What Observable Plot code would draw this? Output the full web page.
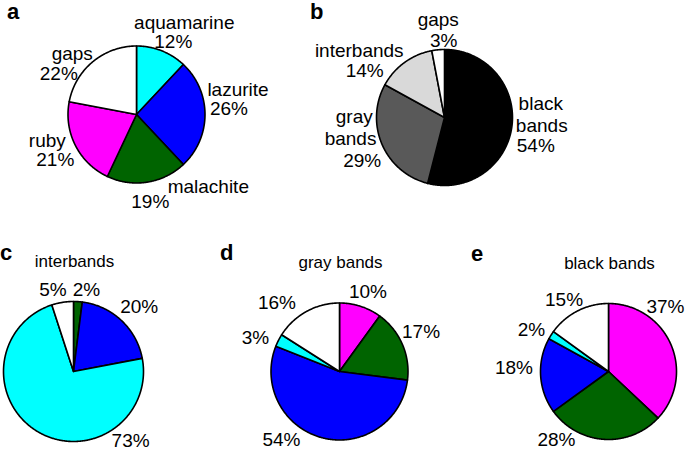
<!DOCTYPE html>
<html>
<head>
<meta charset="utf-8">
<script src="https://cdn.jsdelivr.net/npm/d3@7"></script>
<script src="https://cdn.jsdelivr.net/npm/@observablehq/plot@0.6"></script>
<style>
  html, body { margin: 0; padding: 0; background: #fff; }
  #wrap { position: relative; width: 685px; height: 451px; font-family: "Liberation Sans", Arial, sans-serif; }
  .letter { position: absolute; font-weight: bold; font-size: 22px; line-height: 22px; color: #000; }
</style>
</head>
<body>
<div id="wrap"></div>
<script>
// ---- data ----
const panelA_categories = ["aquamarine", "lazurite", "malachite", "ruby", "gaps"];
const panelA_values = [12, 26, 19, 21, 22];
const panelB_categories = ["black bands", "gray bands", "interbands", "gaps"];
const panelB_values = [54, 29, 14, 3];
const panelC_categories = ["malachite", "lazurite", "aquamarine", "gaps"];
const panelC_values = [2, 20, 73, 5];
const panelD_categories = ["ruby", "malachite", "lazurite", "aquamarine", "gaps"];
const panelD_values = [10, 17, 54, 3, 16];
const panelE_categories = ["ruby", "malachite", "lazurite", "aquamarine", "gaps"];
const panelE_values = [37, 28, 18, 2, 15];
const panelTitles = ["", "", "interbands", "gray bands", "black bands"];
const panelLetters = ["a", "b", "c", "d", "e"];
const colorDomain = ["aquamarine", "lazurite", "malachite", "ruby", "gaps", "black bands", "gray bands", "interbands"];
const colorRange = ["#00ffff", "#0000ff", "#006400", "#ff00ff", "#ffffff", "#000000", "#595959", "#d9d9d9"];

// ---- layout (positions / styling only) ----
const layout = [
  {cats: panelA_categories, vals: panelA_values, cx: 136, cy: 114, r: 68.5, showNames: true,
   nudges: [[[13,-4],[2,15]], [[7,-25],[-2,-6]], [[57,-21],[-1,-6]], [[-5,-16],[3,3]], [[-4,12],[-17.5,32]]],
   letter: [7, 0.5]},
  {cats: panelB_categories, vals: panelB_values, cx: 444, cy: 117, r: 68, showNames: true,
   nudges: [[[3,-25],[4,-3],[-2,17]], [[-4,-37.6],[-7.7,-16.3],[4,6.4]], [[-30,9.7],[-24.5,29]], [[2.6,-4.4],[8.1,17.3]]],
   letter: [310, 0.5]},
  {cats: panelC_categories, vals: panelC_values, cx: 73, cy: 371, r: 70, showNames: false,
   nudges: [[[7,14]], [[0,5]], [[106,-13.6]], [[-5.5,12.8]]],
   letter: [0, 241.5]},
  {cats: panelD_categories, vals: panelD_values, cx: 339, cy: 371, r: 68.5, showNames: false,
   nudges: [[[-0.7,9.9]], [[-5.2,-2.5]], [[-34.5,-23.5]], [[0.2,8.9]], [[-17,13.8]]],
   letter: [220, 241.5]},
  {cats: panelE_categories, vals: panelE_values, cx: 608, cy: 371, r: 68, showNames: false,
   nudges: [[[-29.3,-27.7]], [[-46.1,-25.8]], [[-0.7,-9.9]], [[2.4,8.4]], [[-1.8,11.8]]],
   letter: [471, 242.5]}
];

const slicePoints = [];
const labelLines = [];
const titleData = [];
const pie = d3.pie().sort(null).value(d => d);

layout.forEach((p, pi) => {
  const arcs = pie(p.vals);
  arcs.forEach((a, si) => {
    const key = pi + "-" + si;
    const cat = p.cats[si];
    slicePoints.push({key, category: cat, x: p.cx, y: p.cy});
    const n = Math.max(2, Math.ceil((a.endAngle - a.startAngle) / 0.01));
    for (let k = 0; k <= n; k++) {
      const t = a.startAngle + (a.endAngle - a.startAngle) * k / n;
      slicePoints.push({key, category: cat, x: p.cx + p.r * Math.sin(t), y: p.cy - p.r * Math.cos(t)});
    }
    slicePoints.push({key, category: cat, x: p.cx, y: p.cy});
    // label anchor at mid-angle
    const mid = (a.startAngle + a.endAngle) / 2;
    const R = p.r + 26;
    const ax = p.cx + R * Math.sin(mid), ay = p.cy - R * Math.cos(mid);
    const lines = (p.showNames ? cat.split(" ") : []).concat([p.vals[si] + "%"]);
    lines.forEach((txt, li) => {
      const [dx, dy] = p.nudges[si][li];
      labelLines.push({text: txt, x: ax + dx, y: ay + dy});
    });
  });
  if (panelTitles[pi]) titleData.push({text: panelTitles[pi], x: p.cx + 1, y: p.cy - p.r - 40});
});

const chart = Plot.plot({
  width: 685,
  height: 451,
  margin: 0,
  x: {domain: [0, 685], range: [0, 685], axis: null},
  y: {domain: [0, 451], range: [0, 451], axis: null},
  color: {domain: colorDomain, range: colorRange},
  style: {fontFamily: "'Liberation Sans', Arial, sans-serif", background: "white", color: "black"},
  marks: [
    Plot.line(slicePoints, {x: "x", y: "y", z: "key", fill: "category", stroke: "black", strokeWidth: 1.6, curve: "linear"}),
    Plot.text(labelLines, {x: "x", y: "y", text: "text", fontSize: 19, fill: "black"}),
    Plot.text(titleData, {x: "x", y: "y", text: "text", fontSize: 17, fill: "black"})
  ]
});

const wrap = document.getElementById("wrap");
wrap.appendChild(chart);
layout.forEach((p, pi) => {
  const d = document.createElement("div");
  d.className = "letter";
  d.textContent = panelLetters[pi];
  d.style.left = p.letter[0] + "px";
  d.style.top = p.letter[1] + "px";
  wrap.appendChild(d);
});
</script>
</body>
</html>
